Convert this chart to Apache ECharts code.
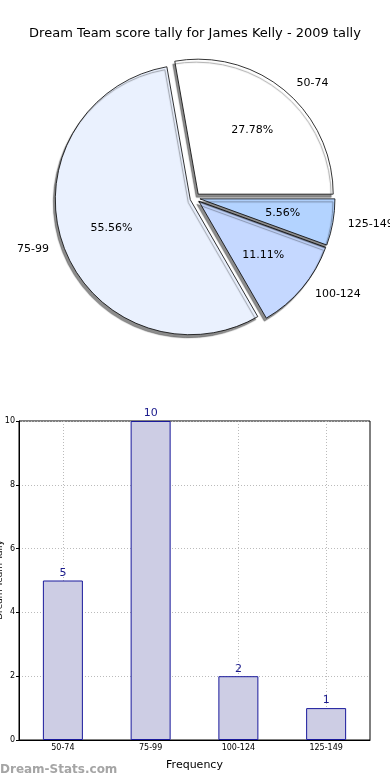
<!DOCTYPE html>
<html><head><meta charset="utf-8">
<script src="https://cdn.jsdelivr.net/npm/echarts@6/dist/echarts.min.js"></script>
<style>html,body{margin:0;padding:0;background:#fff}#c{width:390px;height:780px}</style>
</head><body><div id="c"></div>
<script>
const titleText = 'Dream Team score tally for James Kelly - 2009 tally';
const yAxisTitle = 'Dream Team Tally';
const categories = ['50-74', '75-99', '100-124', '125-149'];
const counts = [5, 10, 2, 1];
const sliceColors = ['#ffffff', '#eaf1fe', '#c5d8ff', '#b3d3ff'];
const yTicks = [0, 2, 4, 6, 8, 10];

const F = 'DejaVu Sans';
const chart = echarts.init(document.getElementById('c'), null, {renderer: 'canvas'});
const R = 135;
const total = counts.reduce((a, b) => a + b, 0);
const pieData = categories.map((c, i) => ({name: c, value: counts[i], selected: true, itemStyle: {color: sliceColors[i]}}));
const pieDataT = categories.map((c, i) => ({name: c, value: counts[i], selected: true}));

chart.setOption({
  animation: false,
  title: {text: titleText, left: 'center', top: 22, textStyle: {fontFamily: F, fontSize: 13, fontWeight: 'normal', color: '#000'}},
  graphic: [
    {type: 'text', left: 0, top: 764, style: {text: 'Dream-Stats.com', font: 'bold 12px "DejaVu Sans"', fill: '#a5a5a5'}},
    {type: 'text', x: 0, y: 580, rotation: Math.PI / 2, style: {text: yAxisTitle, font: '9px "DejaVu Sans"', fill: '#000', align: 'center', verticalAlign: 'middle'}}
  ],
  grid: {left: 19, right: 20, top: 421, bottom: 40, show: true, borderColor: '#000', borderWidth: 1, containLabel: false, outerBoundsMode: 'none'},
  xAxis: {
    type: 'category', data: categories,
    name: 'Frequency', nameLocation: 'middle', nameGap: 20,
    nameTextStyle: {fontFamily: F, fontSize: 11, color: '#000'},
    axisLine: {lineStyle: {color: '#000'}},
    axisTick: {show: false},
    axisLabel: {fontFamily: F, fontSize: 8, color: '#000', margin: 4},
    splitLine: {show: true, alignWithLabel: true, lineStyle: {color: '#bbb', type: [1, 2]}}
  },
  yAxis: {
    type: 'value', min: 0, max: 10, interval: 2,
    axisLine: {show: true, lineStyle: {color: '#000'}},
    axisTick: {show: true, inside: false, length: 3, lineStyle: {color: '#000'}},
    axisLabel: {fontFamily: F, fontSize: 8, color: '#000', margin: 4,
      formatter: v => yTicks.includes(v) ? String(v) : ''},
    splitLine: {show: true, lineStyle: {color: '#bbb', type: [1, 2]}}
  },
  series: [
    {
      type: 'pie', center: [195, 198], radius: [0, R], startAngle: 0, clockwise: false,
      selectedMode: 'multiple', selectedOffset: 5, avoidLabelOverlap: false,
      data: pieData,
      itemStyle: {borderColor: '#000', borderWidth: 0.8, shadowColor: 'rgba(0,0,0,0.45)', shadowOffsetX: -2, shadowOffsetY: 3, shadowBlur: 1},
      label: {show: true, position: 'outside', fontFamily: F, fontSize: 11, color: '#000', formatter: '{b}'},
      labelLine: {show: false, length: 10, length2: 0},
      emphasis: {disabled: true}
    },
    {
      type: 'pie', center: [195, 198], radius: [0, R * 1.2], startAngle: 0, clockwise: false,
      selectedMode: 'multiple', selectedOffset: 5, silent: true,
      data: pieDataT,
      itemStyle: {color: 'rgba(0,0,0,0)', borderWidth: 0},
      label: {show: true, position: 'inside', fontFamily: F, fontSize: 11, color: '#000',
        formatter: p => (p.value / total * 100).toFixed(2) + '%'},
      labelLine: {show: false},
      emphasis: {disabled: true}
    },
    {
      type: 'bar', data: counts, barWidth: 40,
      itemStyle: {color: '#cdcde4', borderColor: '#1a1a9c', borderWidth: 1},
      label: {show: true, position: 'top', distance: 2, fontFamily: F, fontSize: 11, color: '#1a1a8c'},
      emphasis: {disabled: true}
    }
  ]
});
</script></body></html>
